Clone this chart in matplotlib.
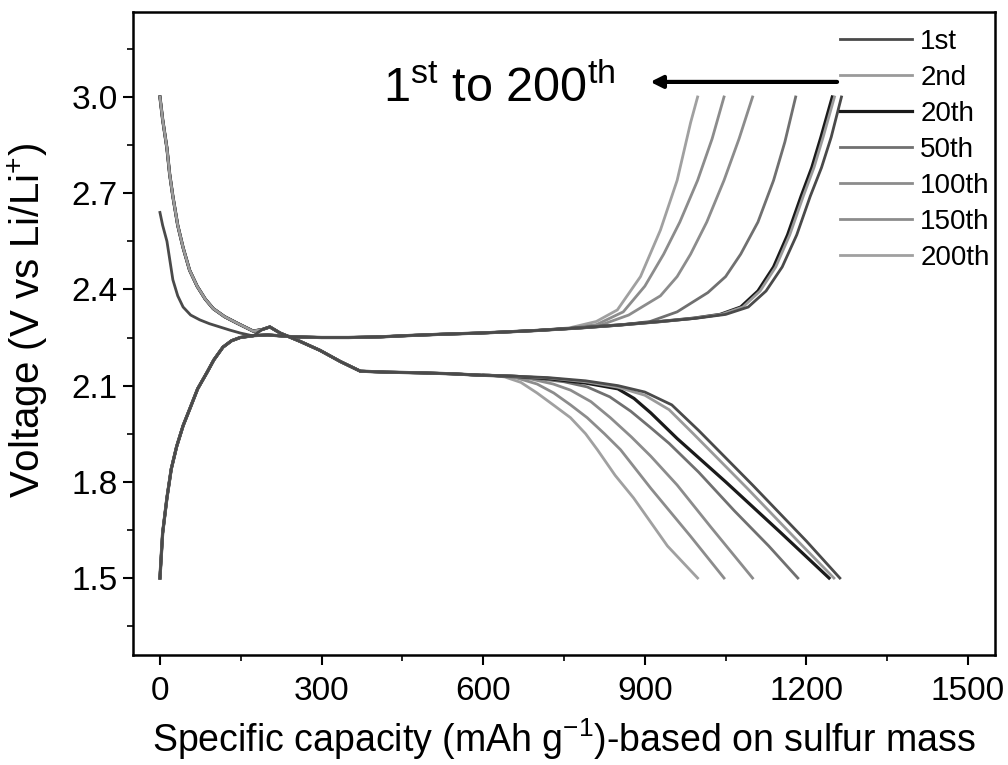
import matplotlib
matplotlib.use('Agg')
import matplotlib.pyplot as plt
import matplotlib.ticker as ticker
from matplotlib import font_manager

available = {f.name for f in font_manager.fontManager.ttflist}
narrow = 'Liberation Sans Narrow' if 'Liberation Sans Narrow' in available else 'Liberation Sans'

plt.rcParams['font.family'] = [narrow, 'DejaVu Sans']
plt.rcParams['mathtext.fontset'] = 'custom'
plt.rcParams['mathtext.rm'] = narrow
plt.rcParams['mathtext.it'] = narrow

cycles = ['1st', '2nd', '20th', '50th', '100th', '150th', '200th']
colors = ['#4a4a4a', '#9a9a9a', '#1a1a1a', '#707070', '#8c8c8c', '#8c8c8c', '#a0a0a0']

# discharge: first cycle starts from OCV, later cycles from 3.0 V
dis1_head_cap = [0, 5, 13, 24, 33, 43, 57, 74, 92, 111, 130, 149, 173]
dis1_head_v = [2.64, 2.6, 2.55, 2.43, 2.38, 2.345, 2.32, 2.305, 2.293, 2.283, 2.273, 2.264, 2.255]
dis_head_cap = [0, 5, 13, 18, 24, 33, 43, 55, 69, 84, 99, 120, 143, 173]
dis_head_v = [3.0, 2.93, 2.84, 2.76, 2.69, 2.6, 2.53, 2.46, 2.41, 2.37, 2.34, 2.315, 2.295, 2.27]
dis_mid_cap = [190, 204, 223, 260, 297, 335, 372, 420, 480, 540, 600]
dis_mid_v = [2.275, 2.283, 2.264, 2.238, 2.21, 2.175, 2.145, 2.142, 2.14, 2.137, 2.132]

dis_tail_cap = {
    '1st': [650, 720, 790, 850, 900, 950, 1000, 1100, 1200, 1262],
    '2nd': [650, 720, 790, 850, 900, 945, 990, 1090, 1190, 1251],
    '20th': [650, 720, 790, 850, 880, 911, 960, 1050, 1150, 1242],
    '50th': [640, 700, 750, 793, 835, 874, 910, 945, 1000, 1066, 1130, 1184],
    '100th': [620, 690, 730, 762, 800, 836, 875, 911, 960, 1022, 1100],
    '150th': [610, 660, 700, 731, 762, 793, 825, 855, 911, 985, 1047],
    '200th': [600, 640, 670, 700, 730, 762, 790, 812, 845, 879, 942, 998],
}
dis_tail_v = {
    '1st': [2.13, 2.125, 2.115, 2.1, 2.08, 2.04, 1.96, 1.79, 1.615, 1.5],
    '2nd': [2.13, 2.124, 2.112, 2.095, 2.07, 2.025, 1.95, 1.78, 1.605, 1.5],
    '20th': [2.13, 2.122, 2.108, 2.09, 2.06, 2.015, 1.935, 1.8, 1.645, 1.5],
    '50th': [2.13, 2.122, 2.112, 2.096, 2.065, 2.02, 1.97, 1.92, 1.83, 1.71, 1.6, 1.5],
    '100th': [2.132, 2.12, 2.105, 2.086, 2.05, 2.0, 1.94, 1.88, 1.79, 1.66, 1.5],
    '150th': [2.133, 2.125, 2.105, 2.077, 2.04, 2.0, 1.95, 1.9, 1.78, 1.63, 1.5],
    '200th': [2.135, 2.127, 2.11, 2.077, 2.04, 2.0, 1.95, 1.9, 1.82, 1.75, 1.6, 1.5],
}

# charge: shared rise and plateau, then per-cycle upswing to 3.0 V
chg_head_cap = [0, 5, 13, 21, 31, 43, 56, 70, 87, 100, 117, 133, 149, 175, 200,
                250, 300, 350, 409, 460, 520, 595, 650]
chg_head_v = [1.5, 1.64, 1.75, 1.84, 1.91, 1.975, 2.03, 2.09, 2.14, 2.18, 2.22, 2.24,
              2.25, 2.256, 2.258, 2.252, 2.25, 2.25, 2.252, 2.256, 2.26, 2.264, 2.268]

chg_tail_cap = {
    '1st': [700, 780, 860, 930, 995, 1050, 1092, 1125, 1155, 1182, 1207, 1228, 1246, 1265],
    '2nd': [700, 780, 860, 930, 990, 1042, 1082, 1114, 1143, 1169, 1194, 1214, 1231, 1252],
    '20th': [700, 780, 860, 930, 990, 1040, 1078, 1110, 1139, 1165, 1190, 1210, 1227, 1248],
    '50th': [700, 780, 850, 910, 960, 1017, 1050, 1078, 1110, 1139, 1160, 1180],
    '100th': [700, 760, 820, 870, 929, 960, 985, 1015, 1047, 1075, 1100],
    '150th': [700, 760, 810, 860, 900, 935, 965, 998, 1025, 1047],
    '200th': [700, 760, 810, 849, 892, 929, 960, 985, 998],
}
chg_tail_v = {
    '1st': [2.272, 2.28, 2.29, 2.3, 2.31, 2.322, 2.345, 2.395, 2.47, 2.57, 2.69, 2.78, 2.875, 3.0],
    '2nd': [2.272, 2.28, 2.29, 2.3, 2.31, 2.322, 2.345, 2.395, 2.47, 2.57, 2.69, 2.78, 2.875, 3.0],
    '20th': [2.272, 2.28, 2.29, 2.3, 2.31, 2.322, 2.345, 2.395, 2.47, 2.57, 2.69, 2.78, 2.875, 3.0],
    '50th': [2.272, 2.28, 2.288, 2.3, 2.33, 2.39, 2.44, 2.51, 2.61, 2.74, 2.86, 3.0],
    '100th': [2.272, 2.278, 2.29, 2.32, 2.38, 2.44, 2.51, 2.61, 2.74, 2.87, 3.0],
    '150th': [2.272, 2.278, 2.29, 2.33, 2.41, 2.51, 2.61, 2.74, 2.87, 3.0],
    '200th': [2.272, 2.28, 2.3, 2.336, 2.44, 2.585, 2.74, 2.92, 3.0],
}

fig = plt.figure(figsize=(10.08, 7.65), dpi=100)
ax = fig.add_axes([133 / 1008, 1 - 655 / 765, 862 / 1008, 643 / 765])

for i in [6, 5, 4, 3, 2, 1, 0]:
    c = cycles[i]
    if c == '1st':
        d_cap = dis1_head_cap + dis_mid_cap + dis_tail_cap[c]
        d_v = dis1_head_v + dis_mid_v + dis_tail_v[c]
    else:
        d_cap = dis_head_cap + dis_mid_cap + dis_tail_cap[c]
        d_v = dis_head_v + dis_mid_v + dis_tail_v[c]
    ch_cap = chg_head_cap + chg_tail_cap[c]
    ch_v = chg_head_v + chg_tail_v[c]
    lw = 2.3 if c == '20th' else 2.0
    ax.plot(d_cap, d_v, color=colors[i], lw=lw, zorder=3)
    ax.plot(ch_cap, ch_v, color=colors[i], lw=lw, zorder=3, label=c)

handles, labels = ax.get_legend_handles_labels()
hmap = dict(zip(labels, handles))
leg = ax.legend([hmap[c] for c in cycles], cycles, loc='upper left',
                bbox_to_anchor=(0.833, 0.962), bbox_transform=fig.transFigure,
                frameon=False, fontsize=20, handlelength=2.6, handletextpad=0.3,
                labelspacing=0.36, borderpad=0, borderaxespad=0)
leg.set_zorder(6)

ax.annotate('', xy=(905, 3.047), xytext=(1262, 3.047),
            arrowprops=dict(arrowstyle='-|>', color='black', lw=3, mutation_scale=18),
            zorder=5)
ax.text(414, 2.984, r'1$^{\mathrm{st}}$ to 200$^{\mathrm{th}}$', fontsize=35,
        family='Liberation Sans', ha='left', va='baseline')

ax.set_xlim(-50, 1550)
ax.set_ylim(1.26, 3.265)
ax.xaxis.set_major_locator(ticker.MultipleLocator(300))
ax.xaxis.set_minor_locator(ticker.MultipleLocator(150))
ax.yaxis.set_major_locator(ticker.FixedLocator([1.5, 1.8, 2.1, 2.4, 2.7, 3.0]))
ax.yaxis.set_major_formatter(ticker.FormatStrFormatter('%.1f'))
ax.yaxis.set_minor_locator(ticker.FixedLocator([1.35, 1.65, 1.95, 2.25, 2.55, 2.85, 3.15]))
ax.tick_params(which='major', direction='out', length=7, width=1.5, labelsize=24, pad=4)
ax.tick_params(which='minor', direction='out', length=4, width=1.2)
ax.tick_params(axis='x', which='major', pad=8)
for s in ax.spines.values():
    s.set_linewidth(1.8)

ax.set_xlabel('Specific capacity (mAh g$^{-1}$)-based on sulfur mass', fontsize=27)
ax.set_ylabel('Voltage (V vs Li/Li$^{+}$)', fontsize=29)
ax.xaxis.set_label_coords(0.5, -0.095)
ax.yaxis.set_label_coords(-0.096, 0.521)

fig.savefig('out.png', dpi=100)
